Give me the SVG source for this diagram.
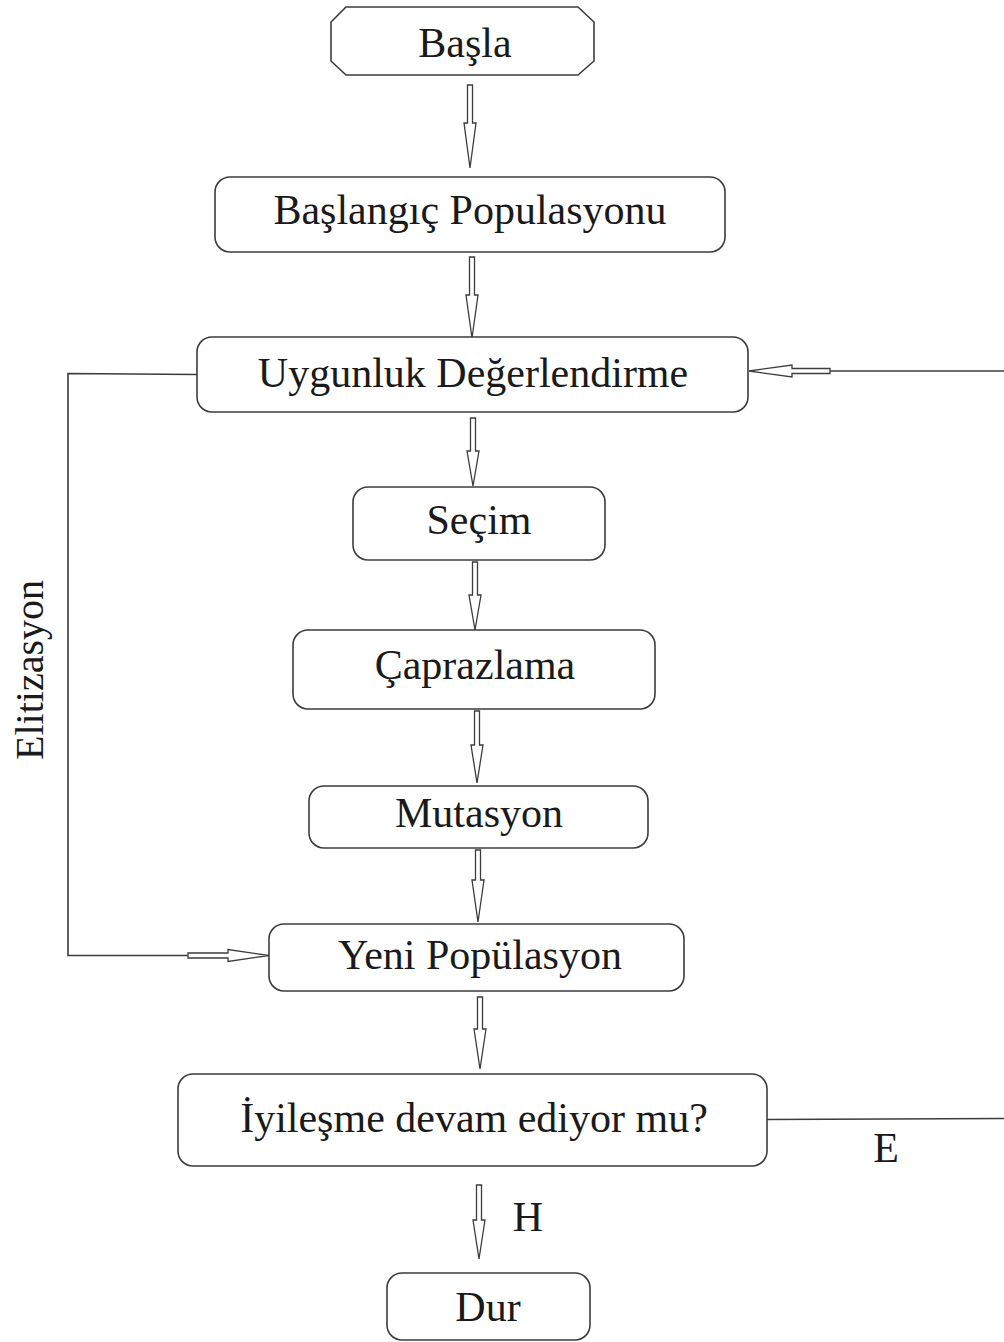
<svg xmlns="http://www.w3.org/2000/svg" width="1004" height="1342" viewBox="0 0 1004 1342">
  <style>
    .box { fill: #ffffff; stroke: #3c3c3c; stroke-width: 1.6; }
    .lbl { font-family: "Liberation Serif", "Times New Roman", serif; font-size: 42px; fill: #1a1a1a; text-anchor: middle; }
    .wire { fill: none; stroke: #3c3c3c; stroke-width: 1.6; }
    .arw { fill: #ffffff; stroke: #3c3c3c; stroke-width: 1.3; stroke-linejoin: miter; }
  </style>
  <rect width="1004" height="1342" fill="#ffffff"/>

  <!-- connectors -->
  <g id="connectors">
    <!-- vertical hollow arrows: shaft then long narrow head -->
    <path class="arw" d="M467.5,85 h5 v38 h3.5 L470,168 L464,123 h3.5 Z"/>
    <path class="arw" d="M469.5,257 h5 v38 h3.5 L472,338 L466,295 h3.5 Z"/>
    <path class="arw" d="M470.5,418 h5 v33 h3.5 L473,486 L467,451 h3.5 Z"/>
    <path class="arw" d="M472.5,562 h5 v33 h3.5 L475,630 L469,595 h3.5 Z"/>
    <path class="arw" d="M474.5,711 h5 v34 h3.5 L477,783 L471,745 h3.5 Z"/>
    <path class="arw" d="M475.5,850 h5 v30 h3.5 L478,922 L472,880 h3.5 Z"/>
    <path class="arw" d="M477.5,997 h5 v32 h3.5 L480,1069 L474,1029 h3.5 Z"/>
    <path class="arw" d="M476.5,1185 h5 v35 h3.5 L479,1259 L473,1220 h3.5 Z"/>

    <!-- elitism loop on the left -->
    <path class="wire" d="M197,374.5 L68,373.5 L68,955.5 L188,955.5"/>
    <path class="arw" d="M188,953 h40 v-3.5 L269,955.5 L228,961.5 v-3.5 h-40 Z"/>

    <!-- return loop on the right -->
    <path class="wire" d="M767,1119.5 L1004,1118.5"/>
    <path class="wire" d="M1004,371 L830,371"/>
    <path class="arw" d="M830,373.5 h-38 v3.5 L749,371 L792,365 v3.5 h38 Z"/>
  </g>

  <g id="n-basla">
    <path class="box" d="M346,7 H578 L594,22 V61 L578,75 H346 L331,61 V22 Z"/>
    <text class="lbl" x="465" y="57">Başla</text>
  </g>

  <g id="n-baslangic">
    <rect class="box" x="215" y="177" width="510" height="75" rx="15"/>
    <text class="lbl" x="470" y="224">Başlangıç Populasyonu</text>
  </g>

  <g id="n-uygunluk">
    <rect class="box" x="197" y="337" width="551" height="75" rx="15"/>
    <text class="lbl" x="473" y="387">Uygunluk Değerlendirme</text>
  </g>

  <g id="n-secim">
    <rect class="box" x="353" y="487" width="252" height="73" rx="15"/>
    <text class="lbl" x="479" y="534">Seçim</text>
  </g>

  <g id="n-caprazlama">
    <rect class="box" x="293" y="630" width="362" height="79" rx="15"/>
    <text class="lbl" x="475" y="679">Çaprazlama</text>
  </g>

  <g id="n-mutasyon">
    <rect class="box" x="309" y="786" width="339" height="62" rx="15"/>
    <text class="lbl" x="479" y="827">Mutasyon</text>
  </g>

  <g id="n-yeni">
    <rect class="box" x="269" y="924" width="415" height="67" rx="15"/>
    <text class="lbl" x="480" y="969">Yeni Popülasyon</text>
  </g>

  <g id="n-iyilesme">
    <rect class="box" x="178" y="1074" width="589" height="92" rx="15"/>
    <text class="lbl" x="474" y="1132">İyileşme devam ediyor mu?</text>
  </g>

  <g id="n-dur">
    <rect class="box" x="387" y="1273" width="203" height="67" rx="15"/>
    <text class="lbl" x="488" y="1321">Dur</text>
  </g>

  <!-- edge labels -->
  <text class="lbl" x="528" y="1231">H</text>
  <text class="lbl" x="886" y="1162">E</text>
  <text class="lbl" style="font-size:40px" transform="translate(43,670) rotate(-90)" x="0" y="0">Elitizasyon</text>
</svg>
